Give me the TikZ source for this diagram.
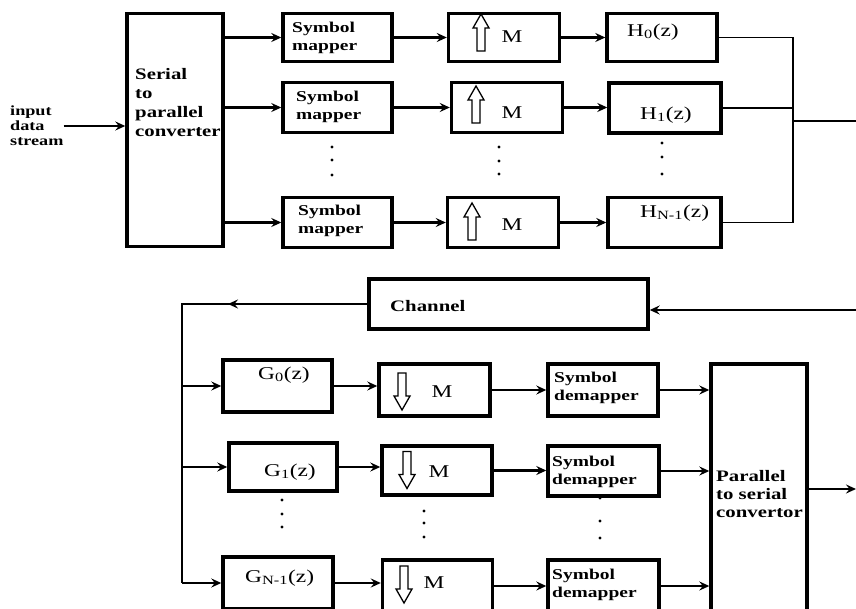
\documentclass[tikz,border=0pt]{standalone}
\usepackage{fontspec}
\setmainfont{Liberation Serif}[FakeStretch=1.3]
\usetikzlibrary{calc,arrows.meta}

\begin{document}
\begin{tikzpicture}[
    x=1pt,y=-1pt,
    block/.style={draw,line width=3.4pt,inner sep=0},
    lbl/.style={font={\fontsize{15}{18}\selectfont\bfseries},
        align=left,inner sep=0,anchor=west},
    fn/.style={font={\fontsize{18}{20}\selectfont},inner sep=0},
    wire/.style={line width=2.2pt},
    conn/.style={wire,-{Stealth[length=10pt,width=9pt,inset=3.5pt]}},
    hollow/.pic={
        \draw[line width=1.3pt,fill=white] (-4,18) -- (-4,-5) -- (-8,-5)
            -- (0,-19) -- (8,-5) -- (4,-5) -- (4,18) -- cycle;},
    ]
    \useasboundingbox (0,0) rectangle (856,609);
    \clip (0,0) rectangle (856,609);

    % Transmitter: serial to parallel
    \node[lbl,font={\fontsize{14}{15}\selectfont\bfseries}] (input) at (10,126)
        {input\\data\\stream};
    \node[block,minimum width=96,minimum height=233] (sp) at (175,130) {};
    \node[lbl,font={\fontsize{16}{19}\selectfont\bfseries}] (sptxt) at (135,103)
        {Serial\\to\\parallel\\converter};
    % Symbol mappers
    \node[block,minimum width=109,minimum height=48] (m0) at (337.5,37.5) {};
    \node[block,minimum width=109,minimum height=50] (m1) at (337.5,107.5) {};
    \node[block,minimum width=109,minimum height=50] (m2) at (337.5,222.5) {};
    \node[lbl] (m0txt) at (292,38) {Symbol\\mapper};
    \node[lbl] (m1txt) at (296,107) {Symbol\\mapper};
    \node[lbl] (m2txt) at (298,221) {Symbol\\mapper};
    % Upsamplers
    \node[block,minimum width=111,minimum height=48] (u0) at (504,37.5) {};
    \node[block,minimum width=111,minimum height=50] (u1) at (507,107.5) {};
    \node[block,minimum width=111,minimum height=50] (u2) at (503,222.5) {};
    \pic at (481,33) {hollow};
    \pic at (476,105) {hollow};
    \pic at (472,222) {hollow};
    \node[fn] (u0txt) at (512,37) {M};
    \node[fn] (u1txt) at (512,113) {M};
    \node[fn] (u2txt) at (512,225) {M};
    % Synthesis filters
    \node[block,minimum width=110,minimum height=48] (h0) at (662,37.5) {};
    \node[block,minimum width=112,minimum height=50] (h1) at (665,108) {};
    \node[block,minimum width=113,minimum height=50] (h2) at (664.5,222.5) {};
    \node[fn,anchor=west] (h0txt) at (627,32) {H\textsubscript{0}(z)};
    \node[fn,anchor=west] (h1txt) at (640,115) {H\textsubscript{1}(z)};
    \node[fn,anchor=west] (h2txt) at (640,213) {H\textsubscript{N-1}(z)};

    % Transmitter wiring
    \draw[conn] (input.east) -- (input.east -| sp.west);
    \draw[conn] (m0.west -| sp.east) -- (m0.west);
    \draw[conn] (m1.west -| sp.east) -- (m1.west);
    \draw[conn] (m2.west -| sp.east) -- (m2.west);
    \draw[conn] (m0.east) -- (m0.east -| u0.west);
    \draw[conn] (m1.east) -- (m1.east -| u1.west);
    \draw[conn] (m2.east) -- (m2.east -| u2.west);
    \draw[conn] (u0.east) -- (u0.east -| h0.west);
    \draw[conn] (u1.east) -- (u1.east -| h1.west);
    \draw[conn] (u2.east) -- (u2.east -| h2.west);
    \coordinate (sum) at (793,121);
    \coordinate (txout) at (856,121);
    \draw[wire,line width=1.7pt] (h0.east) -| (sum) |- (h2.east);
    \draw[wire,line width=1.7pt] (h1.east) -- (h1.east -| sum);
    \draw[wire,line width=1.7pt] (sum) -- (txout);

    % Channel
    \node[block,minimum width=279,minimum height=50] (ch) at (508.5,304) {};
    \node[lbl,font={\fontsize{16}{18}\selectfont\bfseries}] (chtxt) at (390,306)
        {Channel};
    \coordinate (rxin) at (856,310);
    \draw[conn] (rxin) -- (rxin -| ch.east);

    % Receiver: analysis filters
    \node[block,minimum width=109,minimum height=52] (g0) at (277.5,386) {};
    \node[block,minimum width=108,minimum height=48] (g1) at (283,467) {};
    \node[block,minimum width=110,minimum height=52] (g2) at (278,583) {};
    \node[fn,anchor=west] (g0txt) at (258,375) {G\textsubscript{0}(z)};
    \node[fn,anchor=west] (g1txt) at (264,472) {G\textsubscript{1}(z)};
    \node[fn,anchor=west] (g2txt) at (245,578) {G\textsubscript{N-1}(z)};
    % Downsamplers
    \node[block,minimum width=111,minimum height=52] (d0) at (434.5,390) {};
    \node[block,minimum width=110,minimum height=49] (d1) at (437,470.5) {};
    \node[block,minimum width=110,minimum height=52] (d2) at (437.5,586) {};
    \pic[rotate=180] at (402,391) {hollow};
    \pic[rotate=180] at (407,469.5) {hollow};
    \pic[rotate=180] at (404,584) {hollow};
    \node[fn] (d0txt) at (442,392) {M};
    \node[fn] (d1txt) at (439,472) {M};
    \node[fn] (d2txt) at (434,583) {M};
    % Symbol demappers
    \node[block,minimum width=110,minimum height=52] (dm0) at (603,390) {};
    \node[block,minimum width=111,minimum height=50] (dm1) at (603.5,471) {};
    \node[block,minimum width=111,minimum height=52] (dm2) at (603.5,586) {};
    \node[lbl] (dm0txt) at (554,388) {Symbol\\demapper};
    \node[lbl] (dm1txt) at (552,472) {Symbol\\demapper};
    \node[lbl] (dm2txt) at (552,585) {Symbol\\demapper};
    % Parallel to serial
    \node[block,minimum width=96,minimum height=250] (ps) at (759,489) {};
    \node[lbl,font={\fontsize{16}{18}\selectfont\bfseries}] (pstxt) at (716,494)
        {Parallel\\to serial\\convertor};

    % Receiver wiring
    \coordinate (bustop) at (182,304);
    \draw[wire] (ch.west) -- (bustop) -- (bustop |- g2.west);
    \draw[conn] (ch.west) -- ($(bustop)+(46,0)$);
    \draw[conn] (bustop |- g0.west) -- (g0.west);
    \draw[conn] (bustop |- g1.west) -- (g1.west);
    \draw[conn] (bustop |- g2.west) -- (g2.west);
    \draw[conn] (g0.east) -- (g0.east -| d0.west);
    \draw[conn] (g1.east) -- (g1.east -| d1.west);
    \draw[conn] (g2.east) -- (g2.east -| d2.west);
    \draw[conn] (d0.east) -- (d0.east -| dm0.west);
    \draw[conn] (d1.east) -- (d1.east -| dm1.west);
    \draw[conn] (d2.east) -- (d2.east -| dm2.west);
    \draw[conn] (dm0.east) -- (dm0.east -| ps.west);
    \draw[conn] (dm1.east) -- (dm1.east -| ps.west);
    \draw[conn] (dm2.east) -- (dm2.east -| ps.west);
    \coordinate (rxout) at (856,489);
    \draw[conn] (ps.east) -- (rxout);

    % Vertical dots between rows
    \foreach \x/\y in {332/147,332/160,332/175, 499/147,499/161,499/174,
                       662/143,662/157,662/174, 282/500,282/514,282/527,
                       424/511,424/523,424/537, 600/498,600/521,600/538}
        \fill (\x,\y) circle (1.7);
\end{tikzpicture}
\end{document}
